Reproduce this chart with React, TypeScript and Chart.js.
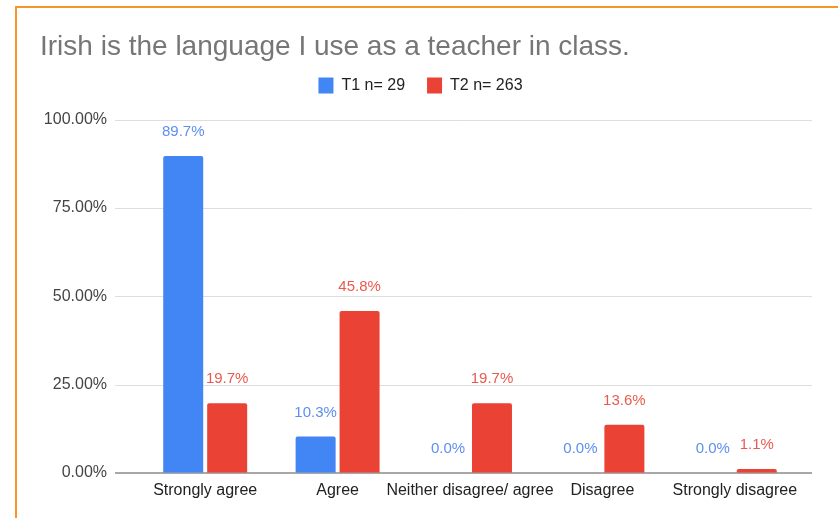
import { useEffect, useRef } from 'react';
import { Chart, registerables, layouts } from 'chart.js';
Chart.register(...registerables);

const titleText = 'Irish is the language I use as a teacher in class.';
const categories = ['Strongly agree', 'Agree', 'Neither disagree/ agree', 'Disagree', 'Strongly disagree'];
const seriesLabels = ['T1 n= 29', 'T2 n= 263'];
const t1Values = [89.7, 10.3, 0.0, 0.0, 0.0];
const t2Values = [19.7, 45.8, 19.7, 13.6, 1.1];
const yMin = 0;
const yMax = 100;
const yStep = 25;

const FONT = '"Liberation Sans", Arial, sans-serif';
const BLUE = '#4285f4';
const RED = '#ea4335';
const BLUE_LABEL = '#5d8ff0';
const RED_LABEL = '#e95a4e';

const gridPlugin = {
  id: 'extGrid',
  beforeDatasetsDraw(chart: any) {
    const { ctx, chartArea, scales } = chart;
    const y = scales.y;
    ctx.save();
    y.ticks.forEach((t: any) => {
      const py = Math.round(y.getPixelForValue(t.value));
      ctx.beginPath();
      if (t.value === 0) {
        ctx.strokeStyle = '#a8a8a8';
        ctx.lineWidth = 2;
      } else {
        ctx.strokeStyle = '#dedede';
        ctx.lineWidth = 1;
      }
      const off = t.value === 0 ? 0 : 0.5;
      ctx.moveTo(chartArea.left - 24, py + off);
      ctx.lineTo(chartArea.right + 11, py + off);
      ctx.stroke();
    });
    ctx.restore();
  },
};

const valueLabelPlugin = {
  id: 'valueLabels',
  afterDatasetsDraw(chart: any) {
    const { ctx } = chart;
    ctx.save();
    ctx.font = '15px ' + FONT;
    ctx.textAlign = 'center';
    ctx.textBaseline = 'middle';
    chart.data.datasets.forEach((ds: any, di: number) => {
      const meta = chart.getDatasetMeta(di);
      ctx.fillStyle = di === 0 ? BLUE_LABEL : RED_LABEL;
      meta.data.forEach((bar: any, i: number) => {
        const v = ds.data[i] as number;
        ctx.fillText(v.toFixed(1) + '%', bar.x, bar.y - 24);
      });
    });
    ctx.restore();
  },
};

const SPACER = 16;
const spacerPlugin = {
  id: 'legendSpacer',
  beforeInit(chart: any) {
    const box: any = {
      position: 'top',
      weight: 0,
      fullSize: true,
      options: {},
      width: 0,
      height: SPACER,
      left: 0,
      top: 0,
      right: 0,
      bottom: 0,
      update(maxWidth: number) {
        this.width = maxWidth;
        this.height = SPACER;
      },
      isHorizontal() {
        return true;
      },
      getPadding() {
        return { top: 0, left: 0, right: 0, bottom: 0 };
      },
      draw() {},
    };
    layouts.addBox(chart, box);
  },
};

export default function App() {
  const ref = useRef<HTMLCanvasElement | null>(null);
  useEffect(() => {
    if (!ref.current) return;
    const chart = new Chart(ref.current, {
      type: 'bar',
      data: {
        labels: categories,
        datasets: [
          {
            label: seriesLabels[0],
            data: t1Values,
            backgroundColor: BLUE,
            borderRadius: 2,
            categoryPercentage: 0.664,
            barPercentage: 0.91,
          },
          {
            label: seriesLabels[1],
            data: t2Values,
            backgroundColor: RED,
            borderRadius: 2,
            categoryPercentage: 0.664,
            barPercentage: 0.91,
          },
        ],
      },
      options: {
        animation: false,
        responsive: false,
        maintainAspectRatio: false,
        devicePixelRatio: 1,
        layout: { padding: { left: 40, right: 37, top: 30, bottom: 10 } },
        plugins: {
          title: {
            display: true,
            text: titleText,
            align: 'start',
            color: '#767676',
            font: { size: 28, family: FONT, weight: 'normal' },
            padding: { top: 0, bottom: -8 },
          },
          legend: {
            display: true,
            position: 'top',
            labels: {
              boxWidth: 15,
              boxHeight: 16,
              color: '#222',
              font: { size: 16, family: FONT },
              padding: 22,
            },
          },
          tooltip: { enabled: false },
        },
        scales: {
          x: {
            grid: { display: false, drawTicks: false },
            border: { display: false },
            ticks: {
              color: '#222',
              font: { size: 16, family: FONT },
              padding: 8,
              autoSkip: false,
              maxRotation: 0,
            },
          },
          y: {
            min: yMin,
            max: yMax,
            grid: { display: false, drawTicks: false },
            border: { display: false },
            ticks: {
              stepSize: yStep,
              color: '#444',
              font: { size: 16, family: FONT },
              padding: 32,
              callback: (v: any) => Number(v).toFixed(2) + '%',
            },
            afterFit: (scale: any) => {
              scale.width = 99;
            },
          },
        },
      },
      plugins: [gridPlugin, valueLabelPlugin, spacerPlugin],
    });
    return () => chart.destroy();
  }, []);

  return (
    <div style={{ position: 'absolute', left: 0, top: 0, width: 838, height: 518, background: '#fff', overflow: 'hidden' }}>
      <canvas ref={ref} width={838} height={518} style={{ position: 'absolute', left: 0, top: 0, width: 838, height: 518 }} />
      <div style={{ position: 'absolute', left: 15, top: 6, width: 823, height: 2, background: '#f5962a' }} />
      <div style={{ position: 'absolute', left: 15, top: 6, width: 2, height: 512, background: '#f5962a' }} />
    </div>
  );
}
